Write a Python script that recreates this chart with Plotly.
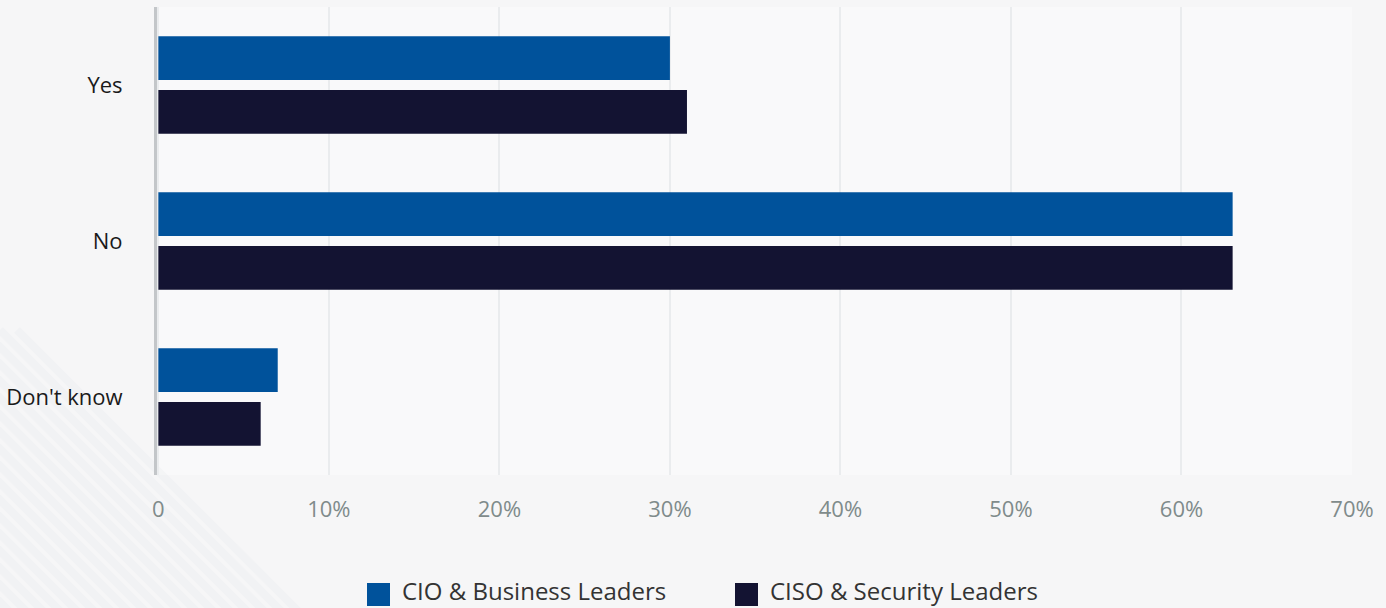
import plotly.graph_objects as go

# Survey answers and the share of each respondent group (percent)
categories = ["Yes", "No", "Don't know"]
cio_business = [30, 63, 7]
ciso_security = [31, 63, 6]
series_names = ["CIO & Business Leaders", "CISO & Security Leaders"]
x_tick_values = [0, 10, 20, 30, 40, 50, 60, 70]
x_tick_labels = ["0", "10%", "20%", "30%", "40%", "50%", "60%", "70%"]

BLUE = "#00529B"
NAVY = "#131332"
FONT = "Open Sans"

# plot area in pixels: x 157..1352, y 7..475
def px(x):
    return (x - 157) / 1195


def py(y):
    return (475 - y) / 468


fig = go.Figure()
fig.add_trace(go.Bar(y=categories, x=cio_business, name=series_names[0],
                     orientation="h", marker=dict(color=BLUE, line_width=0),
                     showlegend=False))
fig.add_trace(go.Bar(y=categories, x=ciso_security, name=series_names[1],
                     orientation="h", marker=dict(color=NAVY, line_width=0),
                     showlegend=False))

# soft diagonal stripes in the lower-left of the background
shapes = []
for k in range(22):
    a = -340 + k * 17
    shapes.append(dict(type="line", xref="paper", yref="paper", layer="below",
                       x0=px(a), y0=py(330), x1=px(a + 290), y1=py(620),
                       line=dict(color="rgba(220,224,230,0.16)", width=8)))

# legend drawn as squares with labels under the plot
legend_items = [
    (series_names[0], BLUE, 367),
    (series_names[1], NAVY, 735),
]
annotations = []
for name, color, x0 in legend_items:
    shapes.append(dict(type="rect", xref="paper", yref="paper",
                       x0=px(x0), x1=px(x0 + 23), y0=py(606), y1=py(583),
                       fillcolor=color, line_width=0))
    annotations.append(dict(text=name, xref="paper", yref="paper",
                            x=px(x0 + 33), y=py(590.5),
                            xanchor="left", yanchor="middle", showarrow=False,
                            font=dict(family=FONT, size=24, color="#333333")))

fig.update_layout(
    width=1386, height=608,
    margin=dict(l=157, r=34, t=7, b=133),
    paper_bgcolor="#f6f6f7",
    plot_bgcolor="rgba(252,252,252,0.6)",
    barmode="group",
    bargap=0.31,
    bargroupgap=0.185,
    shapes=shapes,
    annotations=annotations,
    font=dict(family=FONT),
    xaxis=dict(range=[-0.08, 70], tickvals=x_tick_values, ticktext=x_tick_labels,
               showgrid=True, gridcolor="#eaecee", gridwidth=2,
               zeroline=False, showline=False, ticks="",
               ticklabelstandoff=19,
               tickfont=dict(family=FONT, size=22, color="#7f8b8b")),
    yaxis=dict(categoryorder="array", categoryarray=categories,
               autorange="reversed", showgrid=False, zeroline=False,
               showline=True, linecolor="#c3c6c9", linewidth=3,
               ticks="", ticklabelstandoff=27,
               tickfont=dict(family=FONT, size=22, color="#1a1a1a")),
)

fig.write_html("out.html")
